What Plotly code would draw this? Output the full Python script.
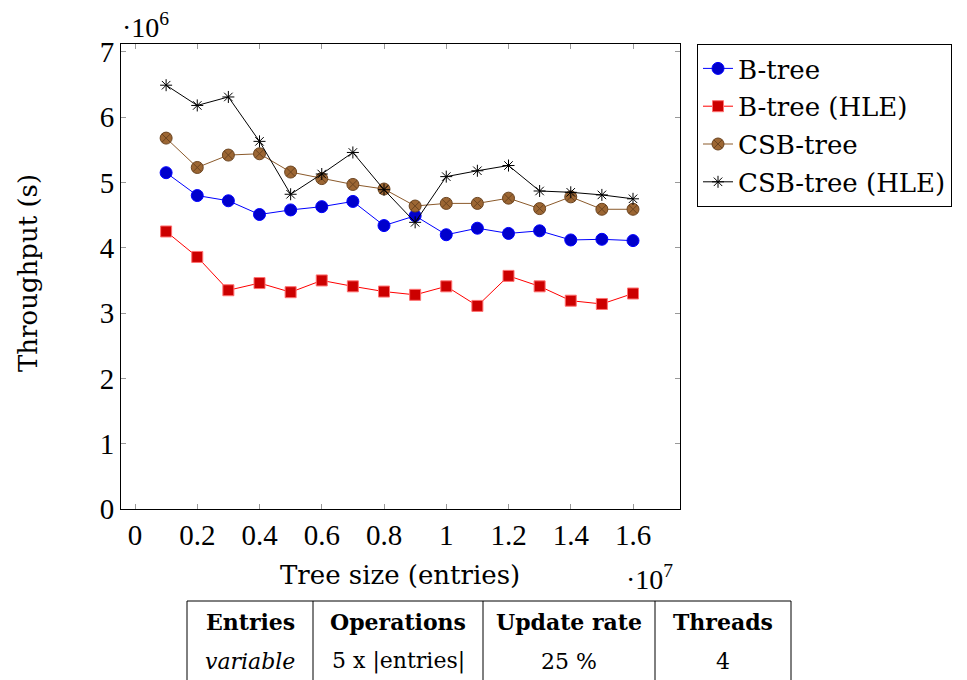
import plotly.graph_objects as go

# ---- data ----
tree_size = [1e6, 2e6, 3e6, 4e6, 5e6, 6e6, 7e6, 8e6, 9e6, 1e7, 1.1e7, 1.2e7, 1.3e7, 1.4e7, 1.5e7, 1.6e7]
btree = [5.15, 4.80, 4.72, 4.51, 4.58, 4.63, 4.71, 4.34, 4.49, 4.20, 4.30, 4.22, 4.26, 4.12, 4.13, 4.11]
btree_hle = [4.25, 3.86, 3.35, 3.46, 3.32, 3.50, 3.41, 3.33, 3.28, 3.41, 3.11, 3.57, 3.41, 3.19, 3.14, 3.30]
csb = [5.68, 5.23, 5.42, 5.44, 5.16, 5.06, 4.97, 4.90, 4.64, 4.68, 4.68, 4.76, 4.60, 4.78, 4.59, 4.59]
csb_hle = [6.49, 6.18, 6.31, 5.63, 4.82, 5.13, 5.46, 4.89, 4.39, 5.09, 5.18, 5.26, 4.87, 4.85, 4.81, 4.75]
x_ticks = [0, 2e6, 4e6, 6e6, 8e6, 1e7, 1.2e7, 1.4e7, 1.6e7]
x_tick_labels = ["0", "0.2", "0.4", "0.6", "0.8", "1", "1.2", "1.4", "1.6"]
y_ticks = [0, 1, 2, 3, 4, 5, 6, 7]
table_header = ["Entries", "Operations", "Update rate", "Threads"]
table_row = ["<i>variable</i>", "5 x |entries|", "25 %", "4"]

W, H = 967, 680
L, R, T, B = 121, 680, 44, 509

def px(x):
    return (x - L) / (R - L)

def py(y):
    return (B - y) / (B - T)

SERIF = "DejaVu Serif"
TICKF = "Liberation Serif"

fig = go.Figure()
fig.add_trace(go.Scatter(x=tree_size, y=btree, name="B-tree", mode="lines+markers",
                         line=dict(color="#0000ff", width=1),
                         marker=dict(symbol="circle", size=12, color="#0000cc",
                                     line=dict(color="#0000ff", width=1)),
                         legendgroup="a"))
fig.add_trace(go.Scatter(x=tree_size, y=btree_hle, name="B-tree (HLE)", mode="lines+markers",
                         line=dict(color="#ff0000", width=1),
                         marker=dict(symbol="square", size=11, color="#cc0000",
                                     line=dict(color="#ff7070", width=1)),
                         legendgroup="b"))
fig.add_trace(go.Scatter(x=tree_size, y=csb, name="CSB-tree", mode="lines+markers",
                         line=dict(color="#8b5a2b", width=1),
                         marker=dict(symbol="circle-x", size=12, color="#9c6633",
                                     line=dict(color="#6b4420", width=1)),
                         legendgroup="c"))
fig.add_trace(go.Scatter(x=tree_size, y=csb_hle, name="CSB-tree (HLE)", mode="lines+markers",
                         line=dict(color="#000000", width=1),
                         marker=dict(symbol="asterisk-open", size=10, color="#000000",
                                     line=dict(color="#000000", width=1)),
                         legendgroup="d"))

x_lo = (L - 135) / 311.25 * 1e7
x_hi = (R - 135) / 311.25 * 1e7

fig.update_xaxes(range=[x_lo, x_hi], tickvals=x_ticks, ticktext=x_tick_labels,
                 ticks="inside", ticklen=5, tickcolor="#999999", showgrid=False, zeroline=False,
                 showline=True, linecolor="#000000", linewidth=1, mirror="ticks",
                 tickfont=dict(family=TICKF, size=29, color="#000000"))
fig.update_yaxes(range=[0, (B - T) / 65.3], tickvals=y_ticks,
                 ticks="inside", ticklen=5, tickcolor="#999999", showgrid=False, zeroline=False,
                 showline=True, linecolor="#000000", linewidth=1, mirror="ticks",
                 tickfont=dict(family=TICKF, size=29, color="#000000"))

ann = [
    dict(text="Tree size (entries)", x=px(400), y=py(575), xref="paper", yref="paper",
         showarrow=False, xanchor="center", yanchor="middle",
         font=dict(family=SERIF, size=26, color="#000000")),
    dict(text="Throughput (s)", x=px(28), y=py(273), xref="paper", yref="paper",
         showarrow=False, xanchor="center", yanchor="middle", textangle=-90,
         font=dict(family=SERIF, size=26, color="#000000")),
    dict(text="·10<sup>6</sup>", x=px(120), y=py(25), xref="paper", yref="paper",
         showarrow=False, xanchor="left", yanchor="middle",
         font=dict(family=TICKF, size=28, color="#000000")),
    dict(text="·10<sup>7</sup>", x=px(624), y=py(577), xref="paper", yref="paper",
         showarrow=False, xanchor="left", yanchor="middle",
         font=dict(family=TICKF, size=28, color="#000000")),
]

# table
cols = [187, 313, 483, 655, 791]
t_top, t_bot = 601, 682
shapes = [dict(type="rect", xref="paper", yref="paper", x0=px(cols[0]), x1=px(cols[-1]),
               y0=py(t_top), y1=py(t_bot), line=dict(color="#000000", width=1))]
for c in cols[1:-1]:
    shapes.append(dict(type="line", xref="paper", yref="paper", x0=px(c), x1=px(c),
                       y0=py(t_top), y1=py(t_bot), line=dict(color="#000000", width=1)))
for i in range(4):
    cx = (cols[i] + cols[i + 1]) / 2
    ann.append(dict(text="<b>" + table_header[i] + "</b>", x=px(cx), y=py(622),
                    xref="paper", yref="paper", showarrow=False, xanchor="center", yanchor="middle",
                    font=dict(family=SERIF, size=22, color="#000000")))
    ann.append(dict(text=table_row[i], x=px(cx), y=py(661),
                    xref="paper", yref="paper", showarrow=False, xanchor="center", yanchor="middle",
                    font=dict(family=SERIF, size=22, color="#000000")))

fig.update_layout(
    width=W, height=H, plot_bgcolor="white", paper_bgcolor="white",
    margin=dict(l=L, r=W - R, t=T, b=H - B),
    showlegend=True,
    legend=dict(x=px(697), y=1, xanchor="left", yanchor="top", bordercolor="#000000",
                borderwidth=1, bgcolor="white", tracegroupgap=1,
                font=dict(family=SERIF, size=26, color="#000000")),
    annotations=ann, shapes=shapes,
)

fig.write_html("out.html")
